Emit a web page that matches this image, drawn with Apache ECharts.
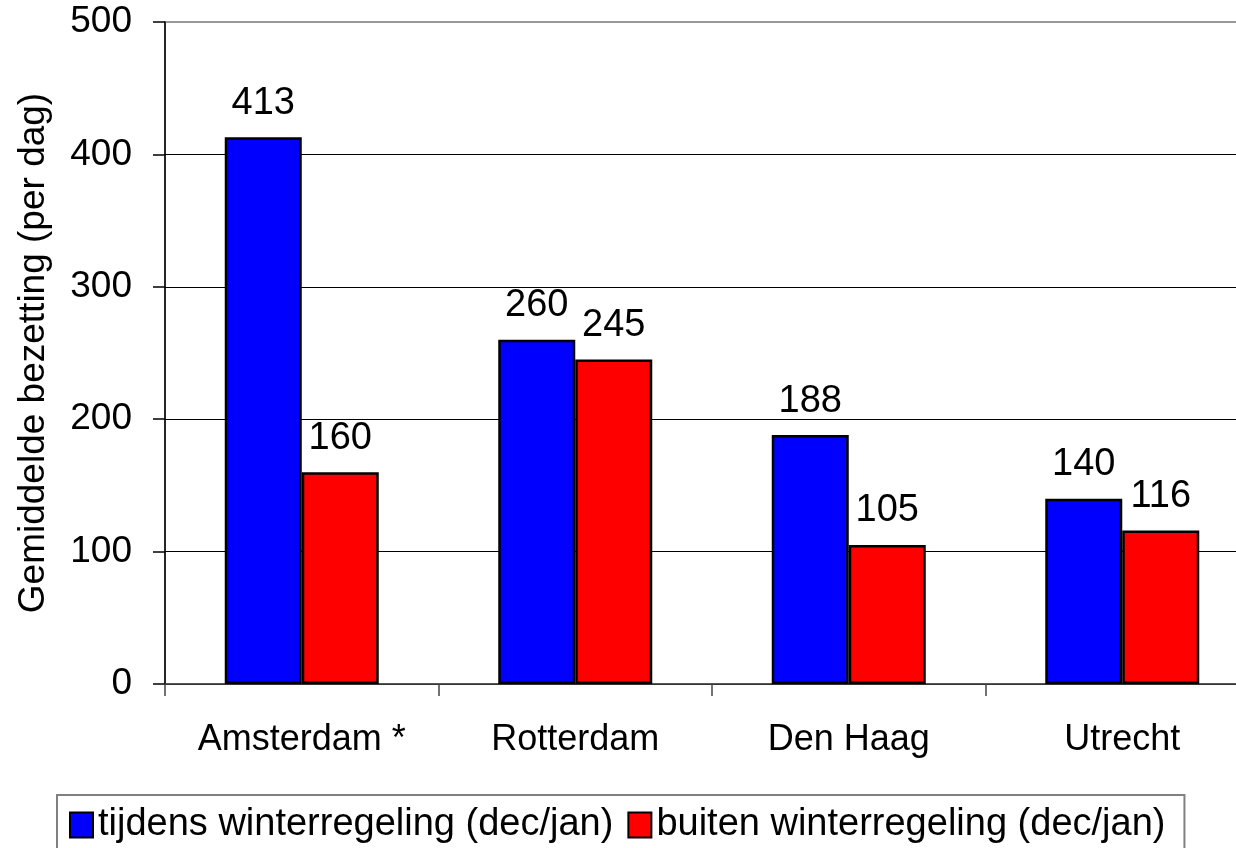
<!DOCTYPE html>
<html>
<head>
<meta charset="utf-8">
<script src="https://cdn.jsdelivr.net/npm/echarts@6/dist/echarts.min.js"></script>
<style>
html,body{margin:0;padding:0;background:#fff;overflow:hidden;width:1236px;height:848px;}
#chart{width:1260px;height:848px;}
</style>
</head>
<body>
<div id="chart"></div>
<script>
var categories = ['Amsterdam *', 'Rotterdam', 'Den Haag', 'Utrecht'];
var seriesNames = ['tijdens winterregeling (dec/jan)', 'buiten winterregeling (dec/jan)'];
var tijdensValues = [413, 260, 188, 140];
var buitenValues = [160, 245, 105, 116];
var yAxisTitle = 'Gemiddelde bezetting (per dag)';

var FONT = '"Liberation Sans", Arial, sans-serif';
var chart = echarts.init(document.getElementById('chart'), null, {renderer: 'canvas'});

function barSeries(name, data, color) {
  return {
    name: name,
    type: 'bar',
    data: data,
    barWidth: 77,
    barGap: '0%',
    itemStyle: {color: color, borderColor: '#000', borderWidth: 2.5},
    label: {
      show: true,
      position: 'top',
      distance: 15,
      color: '#000',
      fontFamily: FONT,
      fontSize: 38
    },
    emphasis: {disabled: true}
  };
}

chart.setOption({
  animation: false,
  backgroundColor: '#fff',
  grid: {
    left: 165, top: 22, right: 1, bottom: 164,
    show: true, borderColor: '#999', borderWidth: 2, backgroundColor: 'transparent'
  },
  legend: {
    data: seriesNames,
    left: 57,
    top: 795,
    orient: 'horizontal',
    itemWidth: 23,
    itemHeight: 25,
    itemGap: 14,
    icon: 'rect',
    padding: [10, 19, 10, 12],
    borderColor: '#808080',
    borderWidth: 2,
    backgroundColor: '#fff',
    selectedMode: false,
    textStyle: {fontFamily: FONT, fontSize: 38, color: '#000', lineHeight: 40}
  },
  xAxis: {
    type: 'category',
    data: categories,
    axisLine: {show: true, lineStyle: {color: '#444', width: 1.5}},
    axisTick: {show: true, alignWithLabel: false, length: 12, lineStyle: {color: '#444', width: 1.5}},
    axisLabel: {color: '#000', fontFamily: FONT, fontSize: 36, margin: 38, interval: 0},
    splitLine: {show: false}
  },
  yAxis: {
    type: 'value',
    min: 0,
    max: 500,
    interval: 100,
    name: yAxisTitle,
    nameLocation: 'middle',
    nameGap: 113,
    nameRotate: 90,
    nameTextStyle: {color: '#000', fontFamily: FONT, fontSize: 37},
    axisLine: {show: true, lineStyle: {color: '#000', width: 1.5}},
    axisTick: {show: true, length: 12, lineStyle: {color: '#000', width: 1.5}},
    axisLabel: {color: '#000', fontFamily: FONT, fontSize: 37, margin: 33},
    splitLine: {show: true, showMaxLine: false, lineStyle: {color: '#000', width: 1.2}}
  },
  series: [
    barSeries(seriesNames[0], tijdensValues, '#0000ff'),
    barSeries(seriesNames[1], buitenValues, '#ff0000')
  ]
});
</script>
</body>
</html>
